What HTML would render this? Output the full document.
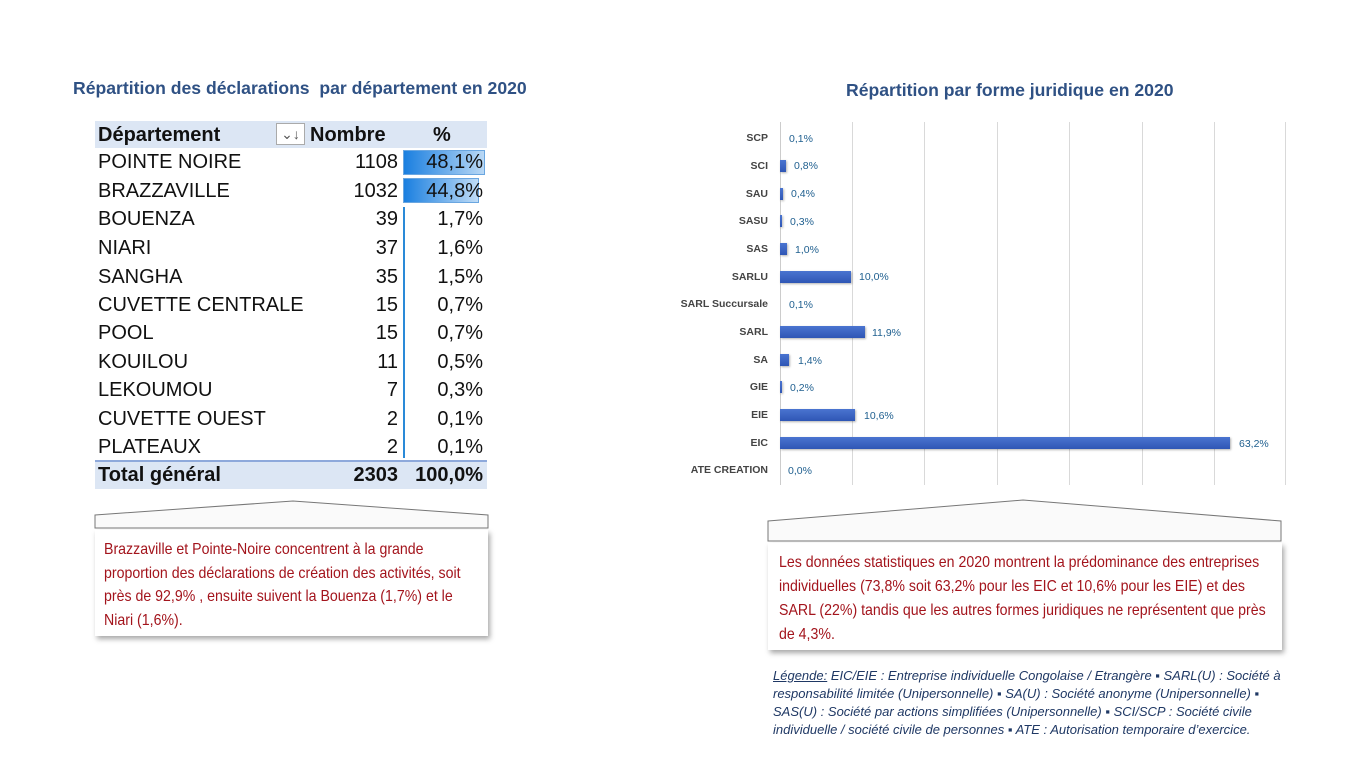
<!DOCTYPE html>
<html><head><meta charset="utf-8"><style>
*{margin:0;padding:0;box-sizing:border-box}
body{width:1356px;height:767px;background:#fff;position:relative;overflow:hidden;font-family:"Liberation Sans",sans-serif}
.a{position:absolute;white-space:nowrap}
.t{font-weight:bold;color:#2f5184;font-size:17.6px}
.tr{font-size:20px;color:#111;height:28px;line-height:28px}
.nm{left:98px}
.nb{width:300px;left:98px;text-align:right}
.pc{left:403px;width:80px;text-align:right}
.lab{font-size:10.5px;font-weight:bold;color:#444;text-align:right;width:120px;left:648px}
.val{font-size:10.5px;color:#1f5f8f}
.bar{position:absolute;height:12px;background:linear-gradient(#4a74d0,#2f56b5);left:780px;box-shadow:1px 1px 2px rgba(0,0,0,.3)}
.g{position:absolute;top:122px;height:363px;width:1px;background:#d9d9d9}
.txt{font-family:"Liberation Sans",sans-serif;color:#a3141c;font-size:16px;transform:scaleX(0.885);transform-origin:0 0}
.lg{font-style:italic;font-size:13px;color:#1f3864}
</style></head><body>
<div class="a t" style="left:73px;top:78px">Répartition des déclarations&nbsp; par département en 2020</div>
<div class="a t" style="left:846px;top:80px">Répartition par forme juridique en 2020</div>

<div class="a" style="left:95px;top:121px;width:392px;height:27px;background:#dce6f4"></div>
<div class="a" style="left:95px;top:461px;width:392px;height:28px;background:#dce6f4"></div>
<div class="a" style="left:95px;top:460px;width:392px;height:2px;background:#8ea9db"></div>
<div class="a tr" style="left:98px;top:121px;font-weight:bold">Département</div>
<div class="a" style="left:276px;top:123px;width:29px;height:22px;border:1px solid #aaa;background:#fff;font-size:14px;text-align:center;color:#555;line-height:20px">⌄↓</div>
<div class="a tr" style="left:310px;top:121px;font-weight:bold">Nombre</div>
<div class="a tr" style="left:433px;top:121px;font-weight:bold">%</div>
<div class="a" style="left:403px;top:150px;width:82px;height:25px;background:linear-gradient(90deg,#1a7fe0,#b9d8f5);border:1px solid #6aa6e0"></div>
<div class="a" style="left:403px;top:178px;width:76px;height:25px;background:linear-gradient(90deg,#1a7fe0,#c0dcf6);border:1px solid #6aa6e0"></div>
<div class="a" style="left:403px;top:207px;width:2px;height:251px;background:#2a8ad8"></div>
<div class="a tr nm" style="top:148px">POINTE NOIRE</div><div class="a tr nb" style="top:148px">1108</div><div class="a tr pc" style="top:148px">48,1%</div>
<div class="a tr nm" style="top:177px">BRAZZAVILLE</div><div class="a tr nb" style="top:177px">1032</div><div class="a tr pc" style="top:177px">44,8%</div>
<div class="a tr nm" style="top:205px">BOUENZA</div><div class="a tr nb" style="top:205px">39</div><div class="a tr pc" style="top:205px">1,7%</div>
<div class="a tr nm" style="top:234px">NIARI</div><div class="a tr nb" style="top:234px">37</div><div class="a tr pc" style="top:234px">1,6%</div>
<div class="a tr nm" style="top:263px">SANGHA</div><div class="a tr nb" style="top:263px">35</div><div class="a tr pc" style="top:263px">1,5%</div>
<div class="a tr nm" style="top:291px">CUVETTE CENTRALE</div><div class="a tr nb" style="top:291px">15</div><div class="a tr pc" style="top:291px">0,7%</div>
<div class="a tr nm" style="top:319px">POOL</div><div class="a tr nb" style="top:319px">15</div><div class="a tr pc" style="top:319px">0,7%</div>
<div class="a tr nm" style="top:348px">KOUILOU</div><div class="a tr nb" style="top:348px">11</div><div class="a tr pc" style="top:348px">0,5%</div>
<div class="a tr nm" style="top:376px">LEKOUMOU</div><div class="a tr nb" style="top:376px">7</div><div class="a tr pc" style="top:376px">0,3%</div>
<div class="a tr nm" style="top:405px">CUVETTE OUEST</div><div class="a tr nb" style="top:405px">2</div><div class="a tr pc" style="top:405px">0,1%</div>
<div class="a tr nm" style="top:433px">PLATEAUX</div><div class="a tr nb" style="top:433px">2</div><div class="a tr pc" style="top:433px">0,1%</div>
<div class="a tr nm" style="top:461px;font-weight:bold">Total général</div><div class="a tr nb" style="top:461px;font-weight:bold">2303</div><div class="a tr pc" style="top:461px;font-weight:bold">100,0%</div>

<svg class="a" style="left:0;top:0" width="1356" height="767">
<polygon points="95,515 293,501 488,515 488,528 95,528" fill="#fafafa" stroke="#777" stroke-width="1"/>
<polygon points="768,521 1023,500 1281,521 1281,541 768,541" fill="#fafafa" stroke="#777" stroke-width="1"/>
</svg>
<div class="a" style="left:95px;top:530px;width:393px;height:106px;background:#fff;box-shadow:2px 3px 5px rgba(0,0,0,.35)"></div>
<div class="a" style="left:768px;top:543px;width:514px;height:107px;background:#fff;box-shadow:2px 3px 5px rgba(0,0,0,.35)"></div>
<div class="a txt" style="left:104px;top:538px;line-height:23.7px">Brazzaville et Pointe-Noire concentrent à la grande<br>proportion des déclarations de création des activités, soit<br>près de 92,9% , ensuite suivent la Bouenza (1,7%) et le<br>Niari (1,6%).</div>
<div class="a txt" style="left:779px;top:551px;line-height:24px">Les données statistiques en 2020 montrent la prédominance des entreprises<br>individuelles (73,8% soit 63,2% pour les EIC et 10,6% pour les EIE) et des<br>SARL (22%) tandis que les autres formes juridiques ne représentent que près<br>de 4,3%.</div>

<div class="a lg" style="left:773px;top:667px;line-height:18px"><u>Légende:</u> EIC/EIE : Entreprise individuelle Congolaise / Etrangère ▪ SARL(U) : Société à<br>responsabilité limitée (Unipersonnelle) ▪ SA(U) : Société anonyme (Unipersonnelle) ▪<br>SAS(U) : Société par actions simplifiées (Unipersonnelle) ▪ SCI/SCP : Société civile<br>individuelle / société civile de personnes ▪ ATE : Autorisation temporaire d’exercice.</div>

<div class="g" style="left:780px;background:#ccc"></div>
<div class="g" style="left:852px"></div><div class="g" style="left:924px"></div><div class="g" style="left:997px"></div>
<div class="g" style="left:1069px"></div><div class="g" style="left:1142px"></div><div class="g" style="left:1214px"></div><div class="g" style="left:1285px"></div>

<div class="a lab" style="top:132px">SCP</div><div class="a val" style="left:789px;top:133px">0,1%</div>
<div class="a lab" style="top:160px">SCI</div><div class="bar" style="top:160px;width:6px"></div><div class="a val" style="left:794px;top:160px">0,8%</div>
<div class="a lab" style="top:188px">SAU</div><div class="bar" style="top:188px;width:3px"></div><div class="a val" style="left:791px;top:188px">0,4%</div>
<div class="a lab" style="top:215px">SASU</div><div class="bar" style="top:215px;width:2px"></div><div class="a val" style="left:790px;top:216px">0,3%</div>
<div class="a lab" style="top:243px">SAS</div><div class="bar" style="top:243px;width:7px"></div><div class="a val" style="left:795px;top:244px">1,0%</div>
<div class="a lab" style="top:271px">SARLU</div><div class="bar" style="top:271px;width:71px"></div><div class="a val" style="left:859px;top:271px">10,0%</div>
<div class="a lab" style="top:298px">SARL Succursale</div><div class="a val" style="left:789px;top:299px">0,1%</div>
<div class="a lab" style="top:326px">SARL</div><div class="bar" style="top:326px;width:85px"></div><div class="a val" style="left:872px;top:327px">11,9%</div>
<div class="a lab" style="top:354px">SA</div><div class="bar" style="top:354px;width:9px"></div><div class="a val" style="left:798px;top:355px">1,4%</div>
<div class="a lab" style="top:381px">GIE</div><div class="bar" style="top:381px;width:2px"></div><div class="a val" style="left:790px;top:382px">0,2%</div>
<div class="a lab" style="top:409px">EIE</div><div class="bar" style="top:409px;width:75px"></div><div class="a val" style="left:864px;top:410px">10,6%</div>
<div class="a lab" style="top:437px">EIC</div><div class="bar" style="top:437px;width:450px"></div><div class="a val" style="left:1239px;top:438px">63,2%</div>
<div class="a lab" style="top:464px">ATE CREATION</div><div class="a val" style="left:788px;top:465px">0,0%</div>
</body></html>
